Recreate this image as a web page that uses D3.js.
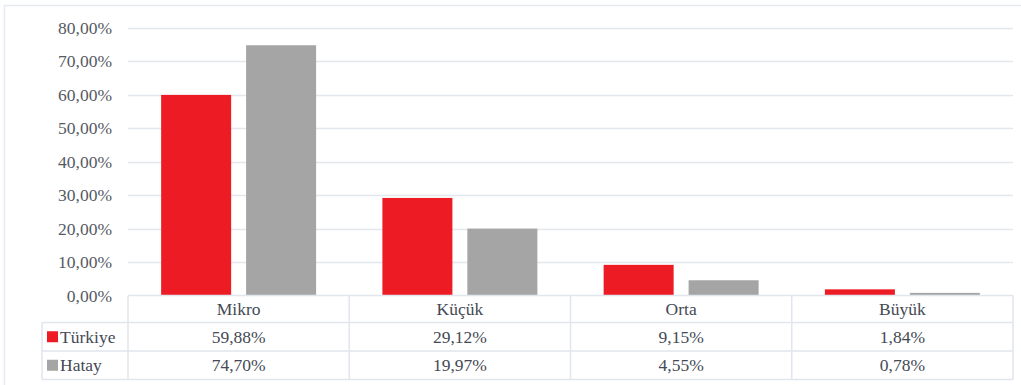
<!DOCTYPE html>
<html>
<head>
<meta charset="utf-8">
<script src="https://cdn.jsdelivr.net/npm/d3@7"></script>
<style>
  body { margin: 0; background: #fff; }
  svg { display: block; }
</style>
</head>
<body>
<svg id="chart" width="1021" height="385"></svg>
<script>
// Firm size categories and shares (%) for each region
const categories = ["Mikro", "Küçük", "Orta", "Büyük"];
const seriesNames = ["Türkiye", "Hatay"];
const turkiye = [59.88, 29.12, 9.15, 1.84];
const hatay = [74.70, 19.97, 4.55, 0.78];
const turkiyeLabels = ["59,88%", "29,12%", "9,15%", "1,84%"];
const hatayLabels = ["74,70%", "19,97%", "4,55%", "0,78%"];
const yTicks = [0, 10, 20, 30, 40, 50, 60, 70, 80];

const colors = { "Türkiye": "#ED1C24", "Hatay": "#A5A5A5" };
const series = [
  { name: "Türkiye", values: turkiye, labels: turkiyeLabels },
  { name: "Hatay", values: hatay, labels: hatayLabels }
];

const FONT = "Liberation Serif, Tinos, Times New Roman, Times, Noto Serif, DejaVu Serif, FreeSerif, serif";
const svg = d3.select("#chart");
const gridColor = "#E4E7EF";
const textColor = "#444a55";

// Outer frame
svg.append("rect")
  .attr("x", 4.5).attr("y", 5.5)
  .attr("width", 1030).attr("height", 400)
  .attr("fill", "none").attr("stroke", "#E6E9F0").attr("stroke-width", 1.5);

const plot = { left: 128, right: 1013, top: 27.5, bottom: 295.5 };

const x = d3.scaleBand()
  .domain(categories)
  .range([plot.left, plot.right])
  .paddingInner(0).paddingOuter(0);

const xInner = d3.scaleBand()
  .domain(seriesNames)
  .range([0, x.bandwidth()])
  .paddingInner(0.176)
  .paddingOuter(0.39);

const y = d3.scaleLinear()
  .domain([0, 80])
  .range([plot.bottom, plot.top]);

// Gridlines
svg.append("g")
  .selectAll("line")
  .data(yTicks.filter(d => d > 0))
  .join("line")
  .attr("x1", plot.left).attr("x2", plot.right)
  .attr("y1", d => Math.round(y(d)) + 0.5).attr("y2", d => Math.round(y(d)) + 0.5)
  .attr("stroke", gridColor).attr("stroke-width", 1.5);

// Y axis labels
const yAxis = d3.axisLeft(y)
  .tickValues(yTicks)
  .tickSize(0)
  .tickPadding(0)
  .tickFormat(d => d3.format(".2f")(d).replace(".", ",") + "%");

const yg = svg.append("g")
  .attr("transform", `translate(112,0)`)
  .call(yAxis);
yg.select(".domain").remove();
yg.selectAll("text")
  .style("font-family", FONT)
  .style("font-size", "17.5px")
  .attr("fill", "#555a63");

// Bars
const groups = svg.append("g")
  .selectAll("g")
  .data(categories)
  .join("g")
  .attr("transform", d => `translate(${x(d)},0)`);

groups.selectAll("rect")
  .data((c, i) => series.map(s => ({ name: s.name, value: s.values[i] })))
  .join("rect")
  .attr("x", d => xInner(d.name))
  .attr("width", xInner.bandwidth())
  .attr("y", d => y(d.value))
  .attr("height", d => y(0) - y(d.value))
  .attr("fill", d => colors[d.name]);

// Data table below the plot
const rowH = [295.5, 322.5, 351, 379.5];
const tableLeft = 42;
const tg = svg.append("g").style("font-family", FONT).style("font-size", "17.5px");
const lineColor = "#E1E5EE";

// Horizontal lines
tg.append("line")
  .attr("x1", plot.left).attr("x2", plot.right)
  .attr("y1", rowH[0]).attr("y2", rowH[0])
  .attr("stroke", lineColor).attr("stroke-width", 1.5);
[rowH[1], rowH[2], rowH[3]].forEach(yy => {
  tg.append("line")
    .attr("x1", tableLeft).attr("x2", plot.right)
    .attr("y1", yy).attr("y2", yy)
    .attr("stroke", lineColor).attr("stroke-width", 1.5);
});
// Vertical lines
tg.append("line")
  .attr("x1", tableLeft).attr("x2", tableLeft)
  .attr("y1", rowH[1]).attr("y2", rowH[3])
  .attr("stroke", lineColor).attr("stroke-width", 1.5);
categories.concat([null]).forEach(c => {
  const xx = c ? x(c) : plot.right;
  tg.append("line")
    .attr("x1", xx).attr("x2", xx)
    .attr("y1", rowH[0]).attr("y2", rowH[3])
    .attr("stroke", lineColor).attr("stroke-width", 1.5);
});

// Category headers
tg.selectAll("text.cat")
  .data(categories)
  .join("text")
  .attr("class", "cat")
  .attr("x", d => x(d) + x.bandwidth() / 2)
  .attr("y", (rowH[0] + rowH[1]) / 2)
  .attr("dy", "0.35em")
  .attr("text-anchor", "middle")
  .attr("fill", textColor)
  .text(d => d);

// Series rows
series.forEach((s, r) => {
  const cy = (rowH[r + 1] + rowH[r + 2]) / 2;
  tg.append("rect")
    .attr("x", 47).attr("y", cy - 5.5)
    .attr("width", 11).attr("height", 11)
    .attr("fill", colors[s.name]);
  tg.append("text")
    .attr("x", 60).attr("y", cy)
    .attr("dy", "0.35em")
    .attr("fill", textColor)
    .text(s.name);
  tg.selectAll(null)
    .data(s.labels)
    .join("text")
    .attr("x", (d, i) => x(categories[i]) + x.bandwidth() / 2)
    .attr("y", cy)
    .attr("dy", "0.35em")
    .attr("text-anchor", "middle")
    .attr("fill", textColor)
    .text(d => d);
});
</script>
</body>
</html>
